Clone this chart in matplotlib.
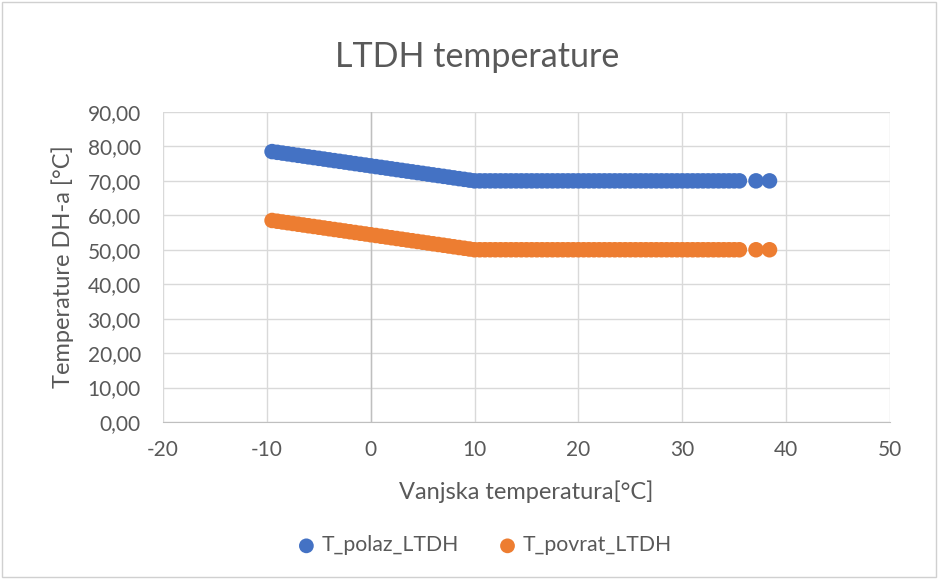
import matplotlib
matplotlib.use("Agg")
import matplotlib.pyplot as plt
from matplotlib.patches import Rectangle
from matplotlib.ticker import FuncFormatter, MultipleLocator

# Outdoor temperature samples [°C]
t_out = [-9.5, -9.0, -8.5, -8.0, -7.5, -7.0, -6.5, -6.0, -5.5, -5.0,
         -4.5, -4.0, -3.5, -3.0, -2.5, -2.0, -1.5, -1.0, -0.5, 0.0,
         0.5, 1.0, 1.5, 2.0, 2.5, 3.0, 3.5, 4.0, 4.5, 5.0,
         5.5, 6.0, 6.5, 7.0, 7.5, 8.0, 8.5, 9.0, 9.5, 10.0,
         10.5, 11.0, 11.5, 12.0, 12.5, 13.0, 13.5, 14.0, 14.5, 15.0,
         15.5, 16.0, 16.5, 17.0, 17.5, 18.0, 18.5, 19.0, 19.5, 20.0,
         20.5, 21.0, 21.5, 22.0, 22.5, 23.0, 23.5, 24.0, 24.5, 25.0,
         25.5, 26.0, 26.5, 27.0, 27.5, 28.0, 28.5, 29.0, 29.5, 30.0,
         30.5, 31.0, 31.5, 32.0, 32.5, 33.0, 33.5, 34.0, 34.5, 35.0,
         35.5, 37.1, 38.4]

# Supply temperature LTDH [°C]
t_polaz = [78.50, 78.28, 78.06, 77.85, 77.63, 77.41, 77.19, 76.97, 76.76, 76.54,
           76.32, 76.10, 75.88, 75.67, 75.45, 75.23, 75.01, 74.79, 74.58, 74.36,
           74.14, 73.92, 73.71, 73.49, 73.27, 73.05, 72.83, 72.62, 72.40, 72.18,
           71.96, 71.74, 71.53, 71.31, 71.09, 70.87, 70.65, 70.44, 70.22, 70.00,
           70.00, 70.00, 70.00, 70.00, 70.00, 70.00, 70.00, 70.00, 70.00, 70.00,
           70.00, 70.00, 70.00, 70.00, 70.00, 70.00, 70.00, 70.00, 70.00, 70.00,
           70.00, 70.00, 70.00, 70.00, 70.00, 70.00, 70.00, 70.00, 70.00, 70.00,
           70.00, 70.00, 70.00, 70.00, 70.00, 70.00, 70.00, 70.00, 70.00, 70.00,
           70.00, 70.00, 70.00, 70.00, 70.00, 70.00, 70.00, 70.00, 70.00, 70.00,
           70.00, 70.00, 70.00]

# Return temperature LTDH [°C]
t_povrat = [58.50, 58.28, 58.06, 57.85, 57.63, 57.41, 57.19, 56.97, 56.76, 56.54,
            56.32, 56.10, 55.88, 55.67, 55.45, 55.23, 55.01, 54.79, 54.58, 54.36,
            54.14, 53.92, 53.71, 53.49, 53.27, 53.05, 52.83, 52.62, 52.40, 52.18,
            51.96, 51.74, 51.53, 51.31, 51.09, 50.87, 50.65, 50.44, 50.22, 50.00,
            50.00, 50.00, 50.00, 50.00, 50.00, 50.00, 50.00, 50.00, 50.00, 50.00,
            50.00, 50.00, 50.00, 50.00, 50.00, 50.00, 50.00, 50.00, 50.00, 50.00,
            50.00, 50.00, 50.00, 50.00, 50.00, 50.00, 50.00, 50.00, 50.00, 50.00,
            50.00, 50.00, 50.00, 50.00, 50.00, 50.00, 50.00, 50.00, 50.00, 50.00,
            50.00, 50.00, 50.00, 50.00, 50.00, 50.00, 50.00, 50.00, 50.00, 50.00,
            50.00, 50.00, 50.00]

series_names = ["T_polaz_LTDH", "T_povrat_LTDH"]
series_colors = ["#4472C4", "#ED7D31"]

plt.rcParams['font.family'] = ['Lato', 'DejaVu Sans']
txt = "#595959"

fig = plt.figure(figsize=(9.38, 5.79), dpi=100)
ax = fig.add_axes([0.1738, 0.2712, 0.9488 - 0.1738, 0.8066 - 0.2712])

for yv, name, col in zip([t_polaz, t_povrat], series_names, series_colors):
    ax.scatter(t_out, yv, s=125, color=col, edgecolors='none', label=name, zorder=3)

ax.set_xlim(-20, 50)
ax.set_ylim(0, 90)
ax.xaxis.set_major_locator(MultipleLocator(10))
ax.yaxis.set_major_locator(MultipleLocator(10))
ax.yaxis.set_major_formatter(FuncFormatter(lambda v, p: f"{v:.2f}".replace('.', ',')))
ax.xaxis.set_major_formatter(FuncFormatter(lambda v, p: f"{v:.0f}"))

ax.grid(True, color="#d9d9d9", linewidth=1.0, zorder=0)
ax.set_axisbelow(True)
for side in ['top', 'right', 'left']:
    ax.spines[side].set_visible(False)
ax.spines['bottom'].set_color("#bfbfbf")
ax.axvline(0, color="#bfbfbf", linewidth=1.0, zorder=1)

ax.tick_params(axis='x', length=0, labelsize=15, colors=txt, pad=13)
ax.tick_params(axis='y', length=0, labelsize=15, colors=txt, pad=16)

fig.text(0.509, 0.9015, "LTDH temperature", fontsize=24.5, color=txt,
         ha='center', va='center')
ax.set_xlabel("Vanjska temperatura[°C]", fontsize=17, color=txt, labelpad=15)
ax.set_ylabel("Temperature DH-a [°C]", fontsize=17, color=txt, labelpad=10)

leg = fig.legend(loc='center', bbox_to_anchor=(0.51, 0.058), ncol=2, frameon=False,
                 fontsize=15.3, handletextpad=-0.3, columnspacing=1.3, markerscale=0.95)
for t in leg.get_texts():
    t.set_color(txt)

fig.patches.append(Rectangle((0.002, 0.003), 0.996, 0.994, transform=fig.transFigure,
                             fill=False, edgecolor="#d0d0d0", linewidth=1.0))

fig.savefig("out.png", dpi=100, facecolor='white')
